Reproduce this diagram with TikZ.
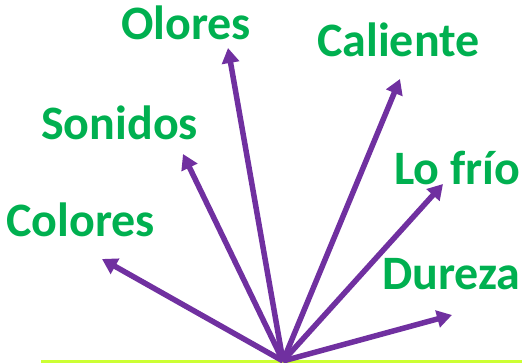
\documentclass[tikz,border=0pt]{standalone}
\usepackage{fontspec}
\setmainfont{Carlito}
\usetikzlibrary{arrows.meta}
\definecolor{lblgreen}{HTML}{00B050}
\definecolor{arrpurple}{HTML}{7030A0}
\definecolor{baseyellow}{HTML}{CCFF33}
\tikzset{
  lbl/.style={text=lblgreen, font=\fontsize{48}{52}\selectfont\bfseries, inner sep=0pt, anchor=base west},
  ray/.style={draw=arrpurple, line width=5.5pt, -{Triangle[width=17pt,length=15pt]}},
}
\begin{document}
\begin{tikzpicture}[x=1pt,y=1pt]
\useasboundingbox (0,0) rectangle (522,363);
\coordinate (L0) at (41,1.5);
\coordinate (L1) at (522,1.5);
\draw[baseyellow, line width=3pt] (L0) -- (L1);
\coordinate (O) at (283,2);
\coordinate (tColores) at (102,104);
\coordinate (tSonidos) at (183,209);
\coordinate (tOlores) at (228,315);
\coordinate (tCaliente) at (400,284);
\coordinate (tFrio) at (443,179);
\coordinate (tDureza) at (452,48);
\foreach \t in {tColores,tSonidos,tOlores,tCaliente,tFrio,tDureza}
  \draw[ray] (O) -- (\t);
\node[lbl] (olores) at (121,323) {Olores};
\node[lbl] (caliente) at (317,306) {Caliente};
\node[lbl] (sonidos) at (41,223) {Sonidos};
\node[lbl] (frio) at (394,178) {Lo frío};
\node[lbl] (colores) at (6,126) {Colores};
\node[lbl] (dureza) at (382,73) {Dureza};
\end{tikzpicture}
\end{document}
